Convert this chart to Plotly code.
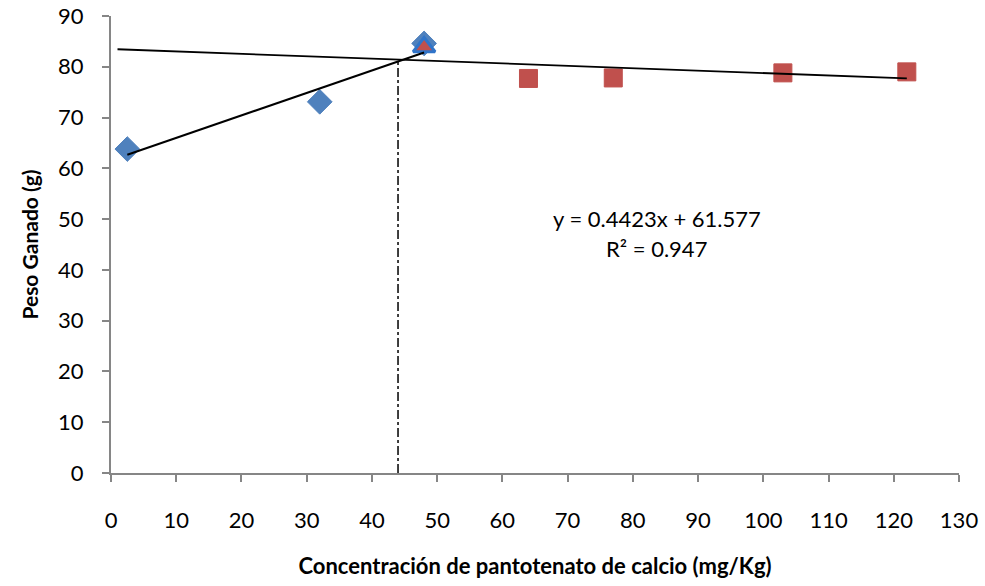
import numpy as np
import plotly.graph_objects as go

# Data
x_rise = [2.5, 32, 48]          # blue diamonds (rising segment)
y_rise = [63.8, 73.1, 84.6]
x_tri = [48]                    # triangle (breakpoint region)
y_tri = [83.9]
x_plat = [64, 77, 103, 122]     # red squares (plateau)
y_plat = [77.7, 77.8, 78.8, 79.0]

slope_rise = 0.4423             # equation shown on the chart
intercept_rise = 61.577
r2_rise = 0.947
plateau_start_x = 1             # plateau trendline forecast start
break_x = 44                    # dash-dot vertical line

x_ticks = list(range(0, 131, 10))
y_ticks = list(range(0, 91, 10))

FONT = "Lato"
BLUE = "#4F81BD"
RED = "#C0504D"

# Trend lines
xr = np.array([min(x_rise), max(x_rise)])
yr = slope_rise * xr + intercept_rise

xp_fit = np.array([x_rise[-1]] + x_plat)
yp_fit = np.array([y_rise[-1]] + y_plat)
m_p, b_p = np.polyfit(xp_fit, yp_fit, 1)
xp = np.array([plateau_start_x, max(x_plat)])
yp = m_p * xp + b_p
break_top = m_p * break_x + b_p

fig = go.Figure()
fig.add_trace(go.Scatter(x=x_rise, y=y_rise, mode="markers",
                         marker=dict(symbol="diamond", size=19, color=BLUE,
                                     line=dict(color=BLUE, width=1))))
fig.add_trace(go.Scatter(x=x_plat, y=y_plat, mode="markers",
                         marker=dict(symbol="square", size=18, color=RED,
                                     line=dict(color=RED, width=1))))
fig.add_trace(go.Scatter(x=x_tri, y=y_tri, mode="markers",
                         marker=dict(symbol="triangle-up", size=19, color=RED,
                                     line=dict(color="#2F74C9", width=3))))
fig.add_trace(go.Scatter(x=xr, y=yr, mode="lines",
                         line=dict(color="black", width=2)))
fig.add_trace(go.Scatter(x=xp, y=yp, mode="lines",
                         line=dict(color="black", width=1.8)))
fig.add_trace(go.Scatter(x=[break_x, break_x], y=[0, break_top], mode="lines",
                         line=dict(color="black", width=1.5, dash="dashdot")))

fig.add_annotation(x=83.7, y=50.2, xref="x", yref="y", showarrow=False,
                   text=f"y = {slope_rise}x + {intercept_rise}",
                   font=dict(family=FONT, size=22, color="black"))
fig.add_annotation(x=83.7, y=44.3, xref="x", yref="y", showarrow=False,
                   text=f"R² = {r2_rise}",
                   font=dict(family=FONT, size=22, color="black"))

axis_common = dict(showgrid=False, zeroline=False, showline=True, automargin=False,
                   linecolor="#868686", linewidth=2, ticks="outside",
                   ticklen=7, tickwidth=2, tickcolor="#868686",
                   tickfont=dict(family=FONT, size=22, color="black"))

fig.update_xaxes(range=[0, 130], tickvals=x_ticks, ticktext=[str(v) for v in x_ticks],
                 ticklabelstandoff=20,
                 title=dict(text="<b>Concentración de pantotenato de calcio (mg/Kg)</b>",
                            font=dict(family=FONT, size=22, color="black"), standoff=26),
                 **axis_common)
fig.update_yaxes(range=[0, 90], tickvals=y_ticks, ticktext=[str(v) for v in y_ticks],
                 ticklabelstandoff=14,
                 title=dict(text="<b>Peso Ganado (g)</b>",
                            font=dict(family=FONT, size=21, color="black"), standoff=14),
                 **axis_common)

fig.update_layout(width=985, height=586, showlegend=False,
                  paper_bgcolor="white", plot_bgcolor="white",
                  margin=dict(l=111, r=26, t=16, b=113))

fig.write_html("out.html")
